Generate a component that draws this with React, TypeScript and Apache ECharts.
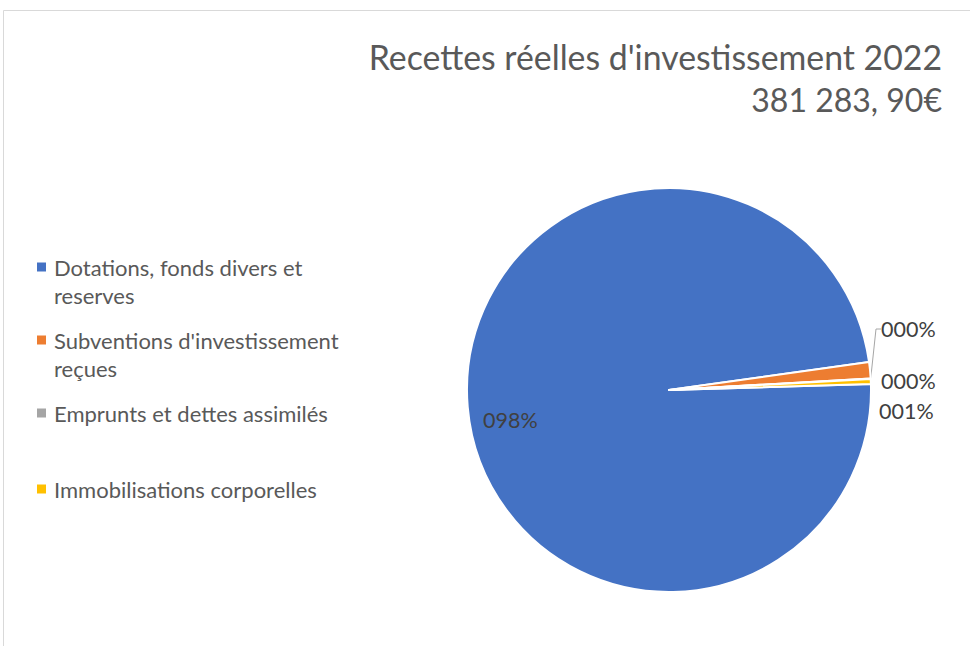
import React, { useEffect, useRef } from "react";
import * as echarts from "echarts";

const categories = [
  "Dotations, fonds divers et reserves",
  "Subventions d'investissement reçues",
  "Emprunts et dettes assimilés",
  "Immobilisations corporelles",
];
const legendLabels = [
  "Dotations, fonds divers et\nreserves",
  "Subventions d'investissement\nreçues",
  "Emprunts et dettes assimilés",
  "Immobilisations corporelles",
];
const values = [374637.2, 4956.7, 190.0, 1500.0];
const colors = ["#4472C4", "#ED7D31", "#A5A5A5", "#FFC000"];
const titleLines = ["Recettes réelles d'investissement 2022", "381 283, 90€"];

const FONT = "Lato";
// label positions (layout only)
const labelPos = [
  { x: 483, y: 420 },
  { x: 879, y: 411 },
  { x: 881, y: 329 },
  { x: 881, y: 381 },
];
const legendCenters = [267, 340, 413, 489];

export default function App() {
  const ref = useRef<HTMLDivElement>(null);
  useEffect(() => {
    if (!ref.current) return;
    const chart = echarts.init(ref.current, null, { renderer: "svg" });
    const legends = categories.map((c, i) => {
      const twoLines = legendLabels[i].includes("\n");
      return {
        data: [c],
        orient: "vertical",
        left: 37,
        top: legendCenters[i] - 4.5 - (twoLines ? 37.5 : 9.5),
        padding: 0,
        itemWidth: 9,
        itemHeight: 9,
        icon: "rect",
        itemStyle: { borderWidth: 0 },
        formatter: () => (twoLines ? "\n" + legendLabels[i] : legendLabels[i]),
        textStyle: {
          fontFamily: FONT,
          fontSize: 22,
          color: "#595959",
          lineHeight: 28,
          padding: [0, 0, 0, 3],
        },
      };
    });
    chart.setOption({
      animation: false,
      color: colors,
      title: {
        text: `{a|${titleLines[0]}}\n{b|${titleLines[1]}}`,
        left: 937,
        top: 30,
        padding: 5,
        textAlign: "right",
        textStyle: {
          fontFamily: FONT,
          fontSize: 32,
          fontWeight: "normal",
          color: "#595959",
          lineHeight: 43,
          rich: {
            a: { fontFamily: FONT, fontSize: 33.8, color: "#595959", lineHeight: 43 },
            b: { fontFamily: FONT, fontSize: 32, color: "#595959", lineHeight: 43 },
          },
        },
      },
      legend: legends,
      graphic: [
        {
          type: "rect",
          shape: { x: 3.5, y: 10.5, width: 1000, height: 700 },
          style: { fill: "none", stroke: "#D9D9D9", lineWidth: 1 },
          silent: true,
        },
      ],
      series: [
        {
          type: "pie",
          center: [669, 390],
          radius: 202,
          startAngle: 1.7,
          clockwise: true,
          avoidLabelOverlap: false,
          itemStyle: { borderColor: "#fff", borderWidth: 2 },
          label: {
            show: true,
            position: "outside",
            fontFamily: FONT,
            fontSize: 21.5,
            color: "#404040",
            formatter: (p: any) =>
              String(Math.round(p.percent)).padStart(3, "0") + "%",
          },
          labelLine: { show: false },
          labelLayout: (p: any) => {
            const pos = labelPos[p.dataIndex];
            return { x: pos.x, y: pos.y, align: "left", verticalAlign: "middle" };
          },
          data: categories.map((name, i) => ({
            name,
            value: values[i],
            label: i === 0 ? { position: "inside" } : undefined,
            labelLine:
              i === 2
                ? { show: true, length: 10, length2: 5, lineStyle: { color: "#A6A6A6", width: 1 } }
                : undefined,
          })),
        },
      ],
    });
    return () => chart.dispose();
  }, []);
  return (
    <div
      ref={ref}
      style={{ position: "absolute", left: 0, top: 0, width: 970, height: 646, background: "#fff" }}
    />
  );
}
